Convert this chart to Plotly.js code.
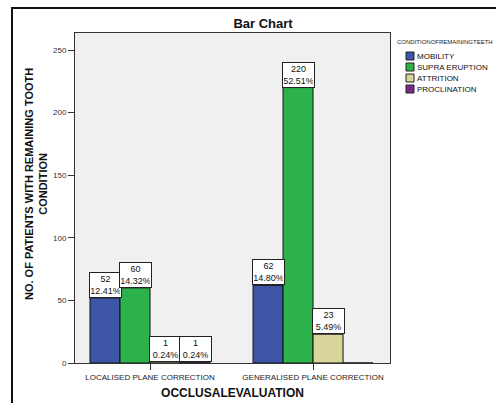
<!DOCTYPE html>
<html>
<head>
<meta charset="utf-8">
<script src="https://cdn.plot.ly/plotly-3.0.1.min.js"></script>
<style>
  html, body { margin: 0; padding: 0; background: #fff; overflow: hidden; }
  #chart { width: 496px; height: 403px; }
</style>
</head>
<body>
<div id="chart"></div>
<script>
// Occlusal evaluation groups on the x axis
const categories = ['LOCALISED PLANE CORRECTION', 'GENERALISED PLANE CORRECTION'];

// Remaining-tooth condition series (patient counts per group)
const seriesNames = ['MOBILITY', 'SUPRA ERUPTION', 'ATTRITION', 'PROCLINATION'];
const mobility = [52, 62];
const supraEruption = [60, 220];
const attrition = [1, 23];
const proclination = [1, 0];

const yTicks = [0, 50, 100, 150, 200, 250];

const seriesValues = [mobility, supraEruption, attrition, proclination];
const seriesColors = ['#3C55A6', '#2DB24B', '#D9D49A', '#7A2A86'];

const total = seriesValues.flat().reduce((a, b) => a + b, 0);

const bargap = 0.264;
const barW = (1 - bargap) / seriesValues.length;

const traces = seriesValues.map((vals, k) => ({
  type: 'bar',
  name: seriesNames[k],
  x: categories,
  y: vals,
  marker: { color: seriesColors[k], line: { color: '#111', width: 1 } },
  hoverinfo: 'x+y+name',
  showlegend: false
}));

// Boxed count / percentage labels above each bar
const annotations = [];
seriesValues.forEach((vals, k) => {
  vals.forEach((v, i) => {
    if (v <= 0) return;
    annotations.push({
      x: i + (k - (seriesValues.length - 1) / 2) * barW,
      y: v,
      xref: 'x', yref: 'y',
      xanchor: 'center', yanchor: 'bottom',
      text: v + '<br>' + (v / total * 100).toFixed(2) + '%',
      showarrow: false,
      font: { family: 'Liberation Sans, Arial, sans-serif', size: 9, color: '#111' },
      bgcolor: '#ffffff',
      bordercolor: '#222',
      borderwidth: 1,
      borderpad: 1,
      width: 29,
      align: 'center'
    });
  });
});

// Plot area geometry in pixels (used for placing the legend block)
const W = 496, H = 403;
const M = { l: 75, r: 106, t: 33, b: 40 };
const pw = W - M.l - M.r, ph = H - M.t - M.b;
const px = x => (x - M.l) / pw;
const py = y => (H - M.b - y) / ph;

// Y axis title
annotations.push({
  xref: 'paper', yref: 'paper',
  x: px(36), y: py(184),
  text: 'NO. OF PATIENTS WITH REMAINING TOOTH<br>CONDITION',
  textangle: -90,
  showarrow: false,
  font: { family: 'Liberation Sans, Arial, sans-serif', size: 11, color: '#111', weight: 'bold' },
  xanchor: 'center', yanchor: 'middle'
});

// Legend block
annotations.push({
  xref: 'paper', yref: 'paper',
  x: px(395), y: py(42),
  text: 'CONDITIONOFREMAININGTEETH',
  showarrow: false,
  font: { family: 'Liberation Sans, Arial, sans-serif', size: 6, color: '#222' },
  xanchor: 'left', yanchor: 'middle'
});
const shapes = [];
seriesNames.forEach((name, k) => {
  const cy = 56 + k * 11;
  shapes.push({
    type: 'rect', xref: 'paper', yref: 'paper',
    x0: px(406), x1: px(414), y0: py(cy + 4), y1: py(cy - 4),
    fillcolor: seriesColors[k], line: { color: '#222', width: 1 }
  });
  annotations.push({
    xref: 'paper', yref: 'paper',
    x: px(415), y: py(cy),
    text: name,
    showarrow: false,
    font: { family: 'Liberation Sans, Arial, sans-serif', size: 8, color: '#111' },
    xanchor: 'left', yanchor: 'middle'
  });
});

// Outer frame around the whole figure
shapes.push({
  type: 'rect', xref: 'paper', yref: 'paper', layer: 'below',
  x0: px(12), x1: px(700), y0: py(700), y1: py(8),
  line: { color: '#111', width: 2 }, fillcolor: 'rgba(0,0,0,0)'
});

const layout = {
  width: W, height: H,
  margin: M,
  paper_bgcolor: '#ffffff',
  plot_bgcolor: '#F0F0F0',
  barmode: 'group',
  bargap: bargap,
  bargroupgap: 0,
  showlegend: false,
  title: {
    text: '<b>Bar Chart</b>',
    x: 263 / W, xanchor: 'center',
    y: 1 - 23 / H, yanchor: 'middle',
    font: { family: 'Liberation Sans, Arial, sans-serif', size: 13, color: '#111' }
  },
  xaxis: {
    type: 'category',
    range: [-0.46, 1.472],
    showgrid: false,
    zeroline: false,
    showline: true, linecolor: '#333', linewidth: 1, mirror: true,
    ticks: 'outside', ticklen: 6, tickcolor: '#333',
    tickfont: { family: 'Liberation Sans, Arial, sans-serif', size: 8, color: '#222' },
    title: {
      text: '<b>OCCLUSALEVALUATION</b>',
      font: { family: 'Liberation Sans, Arial, sans-serif', size: 12, color: '#111' },
      standoff: 8
    }
  },
  yaxis: {
    range: [0, 263.6],
    tickvals: yTicks,
    showgrid: false,
    zeroline: false,
    showline: true, linecolor: '#333', linewidth: 1, mirror: true,
    ticks: 'outside', ticklen: 6, tickcolor: '#333',
    tickfont: { family: 'Liberation Sans, Arial, sans-serif', size: 8, color: '#333' }
  },
  annotations: annotations,
  shapes: shapes
};

Plotly.newPlot('chart', traces, layout, { displayModeBar: false, staticPlot: true });
</script>
</body>
</html>
